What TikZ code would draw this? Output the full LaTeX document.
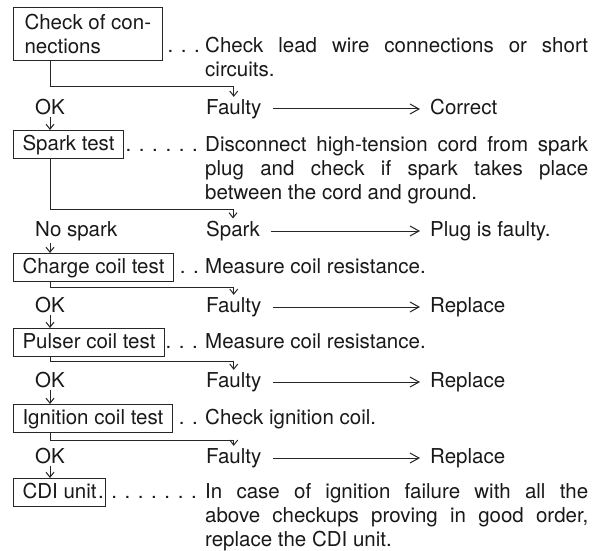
\documentclass[tikz,border=0pt]{standalone}
\usepackage{fontspec}
\setmainfont{TeX Gyre Heros}
\usetikzlibrary{arrows.meta}
\newcommand{\jline}[1]{\makebox[383pt][s]{#1}}

\begin{document}
\begin{tikzpicture}[x=1pt,y=-1pt,>={Straight Barb[length=5pt,width=8pt]},
  every node/.style={font=\fontsize{20.5}{24}\selectfont,text=black!90},
  frame/.style={draw=black!85,line width=1.1pt,inner xsep=11pt},
  testbox/.style={frame,inner xsep=9pt,inner ysep=4.5pt,text height=15pt,text depth=4pt,anchor=base west},
  lbl/.style={inner sep=2pt,anchor=base west},
  desc/.style={inner sep=0pt,align=left,anchor=base west},
  leader/.style={inner sep=0pt,anchor=base east},
  wire/.style={draw=black!85,line width=1pt},
  fixarrow/.style={wire,->,>={Straight Barb[length=9pt,width=10pt]},shorten <=9pt,shorten >=8pt}]
\fill[white] (0,0) rectangle (594,550);

% test steps
\node[frame,inner ysep=6.5pt,align=left,anchor=north west] (conn) at (13,7) {Check of con-\\nections};
\node[testbox] (spark) at (13,150) {Spark test};
\node[testbox] (charge) at (13,273) {Charge coil test};
\node[testbox] (pulser) at (13,348) {Pulser coil test};
\node[testbox] (ignit) at (13,424) {Ignition coil test};
\node[testbox] (cdi) at (13,498) {CDI unit};

% leaders and notes (multi-line notes sit on their last baseline)
\node[leader] (l1) at (200,53) {. . .};
\node[desc] (t1) at (205,77) {\jline{Check lead wire connections or short}\\circuits.};
\node[leader] (l2) at (198,151) {. . . . . .};
\node[desc] (t2) at (205,199) {\jline{Disconnect high-tension cord from spark}\\
  \jline{plug and check if spark takes place}\\between the cord and ground.};
\node[leader] (l3) at (199,273) {. .};
\node[desc] (t3) at (205,273) {Measure coil resistance.};
\node[leader] (l4) at (198,348) {. . .};
\node[desc] (t4) at (205,348) {Measure coil resistance.};
\node[leader] (l5) at (198,424) {. .};
\node[desc] (t5) at (205,424) {Check ignition coil.};
\node[leader] (l6) at (197,498) {. . . . . . . .};
\node[desc] (t6) at (205,546) {\jline{In case of ignition failure with all the}\\
  \jline{above checkups proving in good order,}\\replace the CDI unit.};

% results
\node[lbl,anchor=base] (ok1) at (50,114) {OK};
\node[lbl] (flt1) at (204,114) {Faulty}; \node[lbl] (fix1) at (428,114) {Correct};
\node[lbl] (nosp) at (33,236) {No spark};
\node[lbl] (flt2) at (204,236) {Spark}; \node[lbl] (fix2) at (428,236) {Plug is faulty.};
\node[lbl,anchor=base] (ok3) at (50,312) {OK};
\node[lbl] (flt3) at (204,312) {Faulty}; \node[lbl] (fix3) at (428,312) {Replace};
\node[lbl,anchor=base] (ok4) at (50,387) {OK};
\node[lbl] (flt4) at (204,387) {Faulty}; \node[lbl] (fix4) at (428,387) {Replace};
\node[lbl,anchor=base] (ok5) at (50,463) {OK};
\node[lbl] (flt5) at (204,463) {Faulty}; \node[lbl] (fix5) at (428,463) {Replace};

% branches
\coordinate (ax) at (50,0);
\coordinate (br1) at (50,87); \coordinate (br2) at (50,209); \coordinate (br3) at (50,287);
\coordinate (br4) at (50,361); \coordinate (br5) at (50,440);
\draw[wire,->] (ax |- conn.south) -- (br1) -| (flt1.north);
\draw[wire,->] (ax |- spark.south) -- (br2) -| (flt2.north);
\draw[wire,->] (ax |- charge.south) -- (br3) -| (flt3.north);
\draw[wire,->] (ax |- pulser.south) -- (br4) -| (flt4.north);
\draw[wire,->] (ax |- ignit.south) -- (br5) -| (flt5.north);
\draw[wire,->] (ax |- ok1.south) -- (ax |- spark.north);
\draw[wire,->] (ax |- nosp.south) -- (ax |- charge.north);
\draw[wire,->] (ax |- ok3.south) -- (ax |- pulser.north);
\draw[wire,->] (ax |- ok4.south) -- (ax |- ignit.north);
\draw[wire,->] (ax |- ok5.south) -- (ax |- cdi.north);
\foreach \n in {1,...,5}
  \draw[fixarrow] ([yshift=5pt]flt\n.base east) -- ([yshift=5pt]fix\n.base west);
\end{tikzpicture}
\end{document}
